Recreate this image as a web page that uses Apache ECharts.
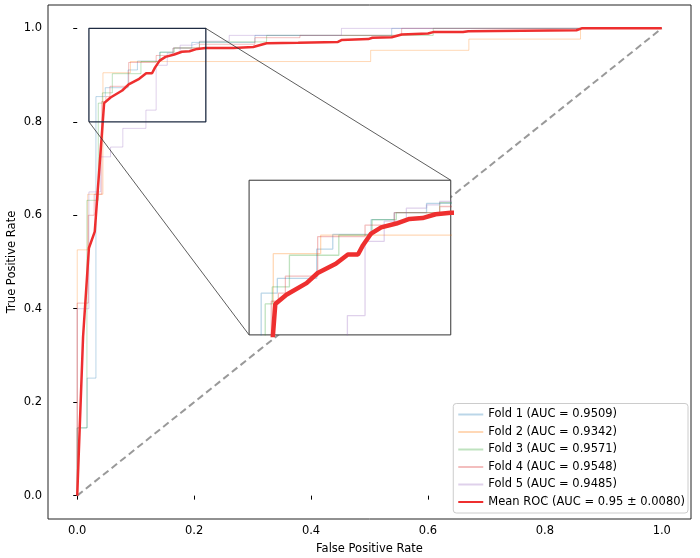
<!DOCTYPE html>
<html>
<head>
<meta charset="utf-8">
<title>ROC</title>
<script src="https://cdn.jsdelivr.net/npm/echarts@6/dist/echarts.min.js"></script>
<style>
  html, body { margin: 0; padding: 0; background: #fff; }
  #rocChart { width: 700px; height: 558px; }
</style>
</head>
<body>
<div id="rocChart"></div>
<script>
// each point: at this FPR the TPR jumps up to this value
var fold1 = [[0, 0], [0, 0.145], [0.017, 0.2515], [0.032, 0.854], [0.048, 0.873], [0.087, 0.911], [0.103, 0.930], [0.141, 0.949], [0.164, 0.958], [0.196, 0.970], [0.304, 0.985], [0.538, 1.0], [1, 1]];
var fold2 = [[0, 0], [0, 0.526], [0.018, 0.645], [0.044, 0.905], [0.091, 0.929], [0.502, 0.953], [0.670, 0.977], [0.861, 1.0], [1, 1]];
var fold3 = [[0, 0], [0, 0.145], [0.0166, 0.632], [0.036, 0.84], [0.043, 0.862], [0.060, 0.903], [0.109, 0.929], [0.142, 0.949], [0.166, 0.958], [0.209, 0.971], [0.324, 0.985], [0.609, 1.0], [1, 1]];
var fold4 = [[0, 0], [0, 0.412], [0.019, 0.60], [0.029, 0.645], [0.042, 0.8435], [0.049, 0.854], [0.056, 0.876], [0.088, 0.927], [0.135, 0.942], [0.164, 0.958], [0.209, 0.966], [0.304, 0.980], [0.381, 0.985], [0.555, 1.0], [1, 1]];
var fold5 = [[0, 0], [0, 0.40], [0.020, 0.65], [0.040, 0.725], [0.057, 0.746], [0.078, 0.786], [0.1175, 0.825], [0.135, 0.921], [0.154, 0.947], [0.176, 0.964], [0.196, 0.968], [0.209, 0.9725], [0.26, 0.985], [0.452, 1.0], [1, 1]];
var meanRoc = [[0, 0], [0.010, 0.34], [0.020, 0.53], [0.030, 0.565], [0.046, 0.84], [0.057, 0.852], [0.077, 0.867], [0.088, 0.880], [0.106, 0.892], [0.118, 0.904], [0.128, 0.904], [0.133, 0.916], [0.141, 0.931], [0.151, 0.939], [0.166, 0.944], [0.179, 0.950], [0.192, 0.951], [0.205, 0.956], [0.220, 0.958], [0.267, 0.958], [0.301, 0.960], [0.324, 0.968], [0.378, 0.969], [0.446, 0.971], [0.452, 0.975], [0.498, 0.977], [0.505, 0.980], [0.538, 0.981], [0.555, 0.987], [0.600, 0.989], [0.609, 0.992], [0.660, 0.992], [0.669, 0.994], [0.854, 0.996], [0.863, 1.0], [1, 1]];
var chance = [[0, 0], [1, 1]];

var foldNames = ['Fold 1 (AUC = 0.9509)', 'Fold 2 (AUC = 0.9342)', 'Fold 3 (AUC = 0.9571)', 'Fold 4 (AUC = 0.9548)', 'Fold 5 (AUC = 0.9485)'];
var meanName = 'Mean ROC (AUC = 0.95 \u00b1 0.0080)';
var tickValues = [0, 0.2, 0.4, 0.6, 0.8, 1.0];

// zoomed window and where the inset sits (main data coords)
var zoomX = [0.02, 0.22];
var zoomY = [0.8, 1.0];
var insetBox = [0.294, 0.344, 0.639, 0.675];

var foldData = [fold1, fold2, fold3, fold4, fold5];
var foldColors = ['rgba(31,119,180,0.3)', 'rgba(255,127,14,0.3)', 'rgba(44,160,44,0.3)', 'rgba(214,39,40,0.3)', 'rgba(148,103,189,0.3)'];
var meanColor = '#ee2f2f';
var font = 'DejaVu Sans';
var fontSize = 11.5;

function mainAxis(name, nameGap) {
  return {
    type: 'value', gridIndex: 0, min: -0.05, max: 1.05,
    name: name, nameLocation: 'middle', nameGap: nameGap, nameMoveOverlap: false,
    nameTextStyle: { fontFamily: font, fontSize: fontSize, color: '#000' },
    axisLine: { show: false },
    axisTick: { show: true, inside: false, length: 4, customValues: tickValues, lineStyle: { color: '#000', width: 1 } },
    axisLabel: { show: true, margin: 6, customValues: tickValues, fontFamily: font, fontSize: fontSize, color: '#000',
      formatter: function (v) { return v.toFixed(1); } },
    splitLine: { show: false }
  };
}

function insetAxis(range) {
  return {
    type: 'value', gridIndex: 1, min: range[0], max: range[1],
    axisLine: { show: false }, axisTick: { show: false }, axisLabel: { show: false }, splitLine: { show: false }
  };
}

function buildOption(insetRect) {
  var series = [];
  series.push({
    type: 'line', data: chance, showSymbol: false, symbol: 'none', z: 2, silent: true,
    lineStyle: { color: 'rgba(128,128,128,0.8)', width: 2, type: [7, 4] }
  });
  foldData.forEach(function (d, i) {
    series.push({
      name: foldNames[i], type: 'line', step: 'end', data: d, symbol: 'none', z: 3,
      lineStyle: { color: foldColors[i], width: 1 }, itemStyle: { color: foldColors[i] }
    });
  });
  series.push({
    name: meanName, type: 'line', data: meanRoc, symbol: 'none', z: 4,
    lineStyle: { color: meanColor, width: 2.5 }, itemStyle: { color: meanColor }
  });

  // zoom box and connector lines on the main axes
  series.push({
    type: 'line', data: [[zoomX[0], zoomY[0]], [zoomX[1], zoomY[0]], [zoomX[1], zoomY[1]], [zoomX[0], zoomY[1]], [zoomX[0], zoomY[0]]],
    symbol: 'none', z: 5, silent: true, lineStyle: { color: '#1e2b42', width: 1.3 }
  });
  series.push({
    type: 'line', data: [[zoomX[0], zoomY[0]], [insetBox[0], insetBox[1]]],
    symbol: 'none', z: 5, silent: true, lineStyle: { color: '#333', width: 0.8 }
  });
  series.push({
    type: 'line', data: [[zoomX[1], zoomY[1]], [insetBox[2], insetBox[3]]],
    symbol: 'none', z: 5, silent: true, lineStyle: { color: '#333', width: 0.8 }
  });

  var grids = [{
    left: 48, right: 9, top: 5, bottom: 39, show: true, outerBoundsMode: 'none', containLabel: false,
    borderColor: '#222', borderWidth: 1, backgroundColor: 'transparent'
  }];
  var xAxes = [mainAxis('False Positive Rate', 24)];
  var yAxes = [mainAxis('True Positive Rate', 30)];

  if (insetRect) {
    grids.push({
      left: insetRect.left, top: insetRect.top, width: insetRect.width, height: insetRect.height,
      outerBoundsMode: 'none', containLabel: false,
      show: true, backgroundColor: '#fff', borderColor: '#333', borderWidth: 1, z: 10
    });
    xAxes.push(insetAxis(zoomX));
    yAxes.push(insetAxis(zoomY));
    foldData.forEach(function (d, i) {
      series.push({
        name: foldNames[i], type: 'line', step: 'end', data: d, symbol: 'none',
        xAxisIndex: 1, yAxisIndex: 1, z: 12, clip: true,
        lineStyle: { color: foldColors[i], width: 1.3 }
      });
    });
    series.push({
      name: meanName, type: 'line', data: meanRoc, symbol: 'none',
      xAxisIndex: 1, yAxisIndex: 1, z: 13, clip: true,
      lineStyle: { color: meanColor, width: 4.5 }
    });
  }

  return {
    animation: false,
    backgroundColor: '#fff',
    textStyle: { fontFamily: font },
    legend: {
      data: foldNames.concat([meanName]),
      orient: 'vertical', right: 12, bottom: 45,
      itemWidth: 25, itemHeight: 12, itemGap: 5.5, itemTextGap: 9,
      padding: [5, 3, 5, 4],
      itemStyle: { opacity: 0 },
      backgroundColor: 'rgba(255,255,255,0.8)', borderColor: '#ccc', borderWidth: 1, borderRadius: 3,
      textStyle: { fontFamily: font, fontSize: fontSize, color: '#000', lineHeight: 12 },
      selectedMode: false
    },
    grid: grids,
    xAxis: xAxes,
    yAxis: yAxes,
    series: series
  };
}

var myChart = echarts.init(document.getElementById('rocChart'));
myChart.setOption(buildOption(null));
// place the inset where the box corners fall on the main axes
var p0 = myChart.convertToPixel({ gridIndex: 0 }, [insetBox[0], insetBox[1]]);
var p1 = myChart.convertToPixel({ gridIndex: 0 }, [insetBox[2], insetBox[3]]);
myChart.setOption(buildOption({
  left: p0[0], top: p1[1], width: p1[0] - p0[0], height: p0[1] - p1[1]
}), true);
</script>
</body>
</html>
